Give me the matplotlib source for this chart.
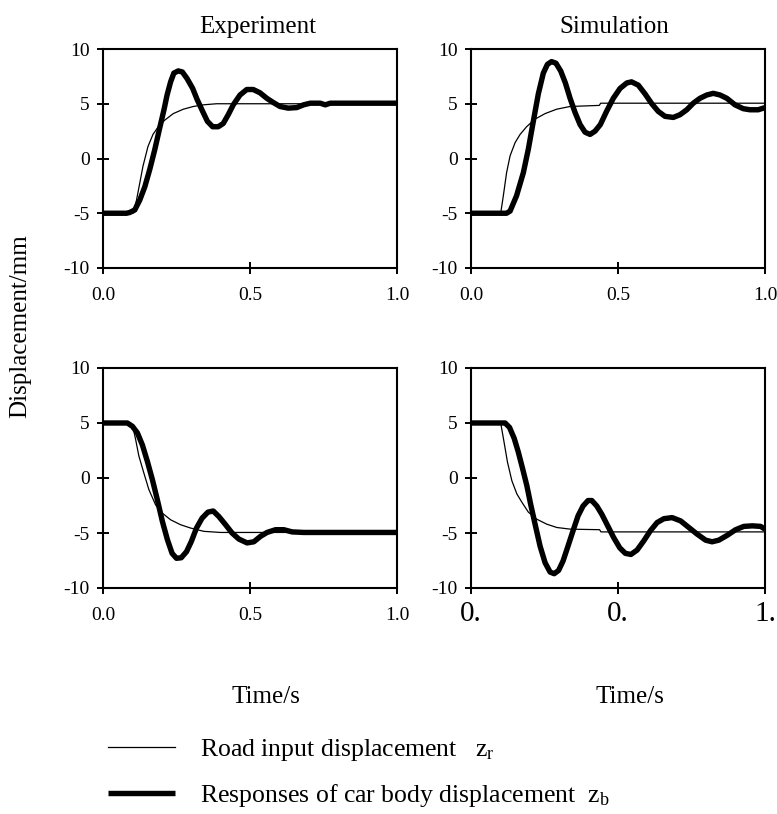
import matplotlib
matplotlib.use("Agg")
import matplotlib.pyplot as plt

plt.rcParams['font.family'] = ['Liberation Serif', 'DejaVu Serif']
plt.rcParams['mathtext.fontset'] = 'custom'
plt.rcParams['mathtext.rm'] = 'Liberation Serif'
plt.rcParams['axes.unicode_minus'] = False

# ---------------- data ----------------
# Experiment, step up
t_exp_up_r = [0, 0.102, 0.114, 0.125, 0.136, 0.153, 0.17, 0.188, 0.21, 0.239, 0.273, 0.307,
              0.341, 0.386, 1.0]
z_exp_up_r = [-5, -5, -3.8, -2.25, -0.7, 1.1, 2.2, 2.9, 3.5, 4.1, 4.5, 4.75,
              4.9, 5.0, 5.0]
t_exp_up_b = [0, 0.08, 0.091, 0.108, 0.125, 0.142, 0.159, 0.176, 0.193, 0.207, 0.218, 0.23,
              0.241, 0.256, 0.27, 0.286, 0.305, 0.32, 0.339, 0.355, 0.373, 0.392, 0.409,
              0.426, 0.443, 0.466, 0.489, 0.511, 0.534, 0.557, 0.58, 0.602, 0.63, 0.659,
              0.682, 0.705, 0.739, 0.756, 0.773, 1.0]
z_exp_up_b = [-5, -5, -4.93, -4.7, -3.8, -2.6, -1.0, 0.8, 2.8, 4.4, 5.8, 7.0,
              7.8, 8.0, 7.9, 7.3, 6.4, 5.4, 4.3, 3.4, 2.9, 2.9, 3.2,
              4.0, 4.9, 5.8, 6.3, 6.3, 6.0, 5.5, 5.1, 4.75, 4.6, 4.65,
              4.9, 5.05, 5.05, 4.9, 5.05, 5.05]

# Simulation, step up
t_sim_up_r = [0, 0.101, 0.11, 0.121, 0.133, 0.15, 0.167, 0.189, 0.218, 0.252, 0.291, 0.337,
              0.4365, 0.441, 1.0]
z_sim_up_r = [-5, -5, -3.4, -1.3, 0.25, 1.45, 2.2, 2.9, 3.6, 4.1, 4.5, 4.75,
              4.85, 5.05, 5.05]
t_sim_up_b = [0, 0.121, 0.133, 0.155, 0.178, 0.195, 0.212, 0.229, 0.246, 0.26, 0.274, 0.289,
              0.305, 0.321, 0.337, 0.354, 0.371, 0.388, 0.405, 0.422, 0.44, 0.461, 0.484,
              0.507, 0.53, 0.546, 0.569, 0.592, 0.615, 0.637, 0.66, 0.688, 0.711, 0.734,
              0.756, 0.779, 0.802, 0.824, 0.847, 0.87, 0.898, 0.926, 0.949, 0.977, 1.0]
z_sim_up_b = [-5, -5, -4.8, -3.4, -1.3, 0.85, 3.4, 5.9, 7.8, 8.6, 8.85, 8.7,
              8.0, 6.9, 5.5, 4.2, 3.1, 2.4, 2.2, 2.5, 3.1, 4.3, 5.5,
              6.4, 6.9, 7.0, 6.7, 5.9, 5.0, 4.3, 3.85, 3.75, 4.0, 4.45,
              5.05, 5.5, 5.8, 5.95, 5.8, 5.5, 4.9, 4.55, 4.45, 4.45, 4.65]

# Experiment, step down
t_exp_dn_r = [0, 0.1, 0.111, 0.122, 0.139, 0.156, 0.179, 0.202, 0.23, 0.264, 0.298, 0.343,
              0.4, 1.0]
z_exp_dn_r = [5, 4.85, 3.5, 2.0, 0.45, -1.05, -2.45, -3.2, -3.8, -4.25, -4.55, -4.85,
              -4.95, -4.95]
t_exp_dn_b = [0, 0.083, 0.1, 0.117, 0.134, 0.151, 0.168, 0.185, 0.202, 0.219, 0.235, 0.25,
              0.266, 0.284, 0.3, 0.318, 0.337, 0.357, 0.375, 0.394, 0.417, 0.439, 0.462,
              0.49, 0.513, 0.536, 0.558, 0.587, 0.615, 0.643, 0.683, 1.0]
z_exp_dn_b = [5, 5, 4.7, 4.1, 3.0, 1.5, -0.15, -2.0, -3.95, -5.6, -6.85, -7.3,
              -7.25, -6.7, -5.8, -4.55, -3.65, -3.1, -3.0, -3.5, -4.25, -5.0, -5.55,
              -5.9, -5.8, -5.3, -4.95, -4.7, -4.7, -4.9, -4.95, -4.95]

# Simulation, step down
t_sim_dn_r = [0, 0.101, 0.1125, 0.124, 0.139, 0.156, 0.173, 0.195, 0.224, 0.258, 0.292,
              0.338, 0.4375, 0.442, 1.0]
z_sim_dn_r = [5, 5, 3.25, 1.45, -0.25, -1.45, -2.2, -3.1, -3.75, -4.2, -4.5,
              -4.65, -4.7, -4.9, -4.9]
t_sim_dn_b = [0, 0.116, 0.131, 0.147, 0.161, 0.176, 0.19, 0.203, 0.218, 0.235, 0.252, 0.269,
              0.283, 0.298, 0.313, 0.328, 0.347, 0.364, 0.381, 0.398, 0.411, 0.428, 0.445,
              0.465, 0.485, 0.506, 0.525, 0.544, 0.565, 0.588, 0.61, 0.633, 0.656, 0.684,
              0.713, 0.741, 0.769, 0.798, 0.82, 0.843, 0.872, 0.9, 0.928, 0.957, 0.985, 1.0]
z_sim_dn_b = [5, 5, 4.6, 3.6, 2.35, 0.8, -0.7, -2.4, -4.2, -6.2, -7.7, -8.55,
              -8.7, -8.4, -7.55, -6.35, -4.8, -3.45, -2.55, -2.05, -2.05, -2.55, -3.3,
              -4.35, -5.4, -6.35, -6.85, -6.95, -6.55, -5.7, -4.8, -4.05, -3.7, -3.6,
              -3.9, -4.5, -5.1, -5.65, -5.8, -5.65, -5.2, -4.7, -4.4, -4.35, -4.4, -4.65]

x_ticks = [0.0, 0.5, 1.0]
x_ticklabels = ["0.0", "0.5", "1.0"]
x_ticklabels_clipped = ["0.", "0.", "1."]
y_ticks = [-10, -5, 0, 5, 10]
y_ticklabels = ["-10", "-5", "0", "5", "10"]

titles = ["Experiment", "Simulation"]
xlabel = "Time/s"
ylabel = "Displacement/mm"
legend_labels = [r"Road input displacement   $\mathregular{z_r}$",
                 r"Responses of car body displacement  $\mathregular{z_b}$"]

# ---------------- layout ----------------
W, H = 777, 814
fig = plt.figure(figsize=(W / 100, H / 100), dpi=100)

def px_axes(l, t, r, b):
    return fig.add_axes([l / W, 1 - b / H, (r - l) / W, (b - t) / H])

axes = [px_axes(103, 49, 397, 268), px_axes(471, 49, 765, 268),
        px_axes(103, 368, 397, 588), px_axes(471, 368, 765, 588)]

series = [(t_exp_up_r, z_exp_up_r, t_exp_up_b, z_exp_up_b),
          (t_sim_up_r, z_sim_up_r, t_sim_up_b, z_sim_up_b),
          (t_exp_dn_r, z_exp_dn_r, t_exp_dn_b, z_exp_dn_b),
          (t_sim_dn_r, z_sim_dn_r, t_sim_dn_b, z_sim_dn_b)]

handles = None
for i, (ax, (tr, zr, tb, zb)) in enumerate(zip(axes, series)):
    l1, = ax.plot(tr, zr, color='black', lw=0.9, zorder=3)
    l2, = ax.plot(tb, zb, color='black', lw=3.9, solid_joinstyle='round',
                  solid_capstyle='butt', zorder=4)
    if handles is None:
        handles = [l1, l2]
    ax.set_xlim(0, 1)
    ax.set_ylim(-10, 10)
    ax.set_xticks(x_ticks)
    ax.set_yticks(y_ticks)
    ax.set_yticklabels(y_ticklabels)
    for s in ax.spines.values():
        s.set_linewidth(1.5)
    ax.tick_params(axis='both', direction='inout', length=9, width=1.4,
                   labelsize=14, colors='black')
    ax.tick_params(axis='y', pad=5)
    ax.tick_params(axis='x', pad=9)
    if i == 3:
        ax.set_xticklabels(x_ticklabels_clipped, fontsize=21)
        ax.tick_params(axis='x', pad=5)
    else:
        ax.set_xticklabels(x_ticklabels)

def ftext(x, y, s, **kw):
    fig.text(x / W, 1 - y / H, s, **kw)

ftext(258, 27, titles[0], fontsize=18, ha='center', va='center')
ftext(614, 27, titles[1], fontsize=18, ha='center', va='center')
ftext(266, 697, xlabel, fontsize=18, ha='center', va='center')
ftext(630, 697, xlabel, fontsize=18, ha='center', va='center')
ftext(20, 326, ylabel, fontsize=18, ha='center', va='center', rotation=90)

fig.legend(handles, legend_labels, loc='upper left',
           bbox_to_anchor=(108 / W, 1 - 737 / H), frameon=False,
           fontsize=18.5, handlelength=2.6, handletextpad=1.0,
           labelspacing=0.75, borderpad=0, borderaxespad=0)

fig.savefig("out.png", dpi=100)
